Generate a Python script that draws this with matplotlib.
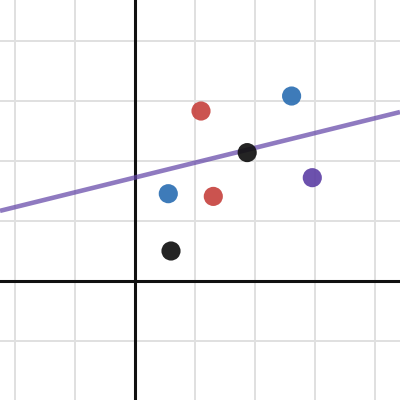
import matplotlib
matplotlib.use("Agg")
import matplotlib.pyplot as plt
import numpy as np

# data
xs = [0.60, 0.555, 1.10, 1.87, 2.61, 1.305, 2.955]
ys = [0.50, 1.455, 2.833, 2.14, 3.083, 1.41, 1.722]
colors = ["#111111", "#2d70b3", "#c74440", "#111111", "#2d70b3", "#c74440", "#6042a6"]
line_intercept = 1.725
line_slope = 0.247

fig = plt.figure(figsize=(4, 4), dpi=100)
ax = fig.add_axes([0, 0, 1, 1])
xmin, xmax = -2.25, 265 / 60
ymin, ymax = -119 / 60, 281 / 60
ax.set_xlim(xmin, xmax)
ax.set_ylim(ymin, ymax)

for g in range(-2, 5):
    ax.axvline(g, color="#e0e0e0", lw=1.4, zorder=0)
for g in range(-1, 5):
    ax.axhline(g, color="#e0e0e0", lw=1.4, zorder=0)
ax.axvline(0, color="#111111", lw=2.2, zorder=1)
ax.axhline(0, color="#111111", lw=2.2, zorder=1)

lx = np.array([xmin, xmax])
ax.plot(lx, line_intercept + line_slope * lx, color="#6042a6", alpha=0.7, lw=3.3, zorder=2, solid_capstyle="butt")

ax.scatter(xs, ys, c=colors, s=190, alpha=0.92, linewidths=0, zorder=3)

for s in ax.spines.values():
    s.set_visible(False)
ax.set_xticks([])
ax.set_yticks([])
fig.savefig("out.png", dpi=100)
